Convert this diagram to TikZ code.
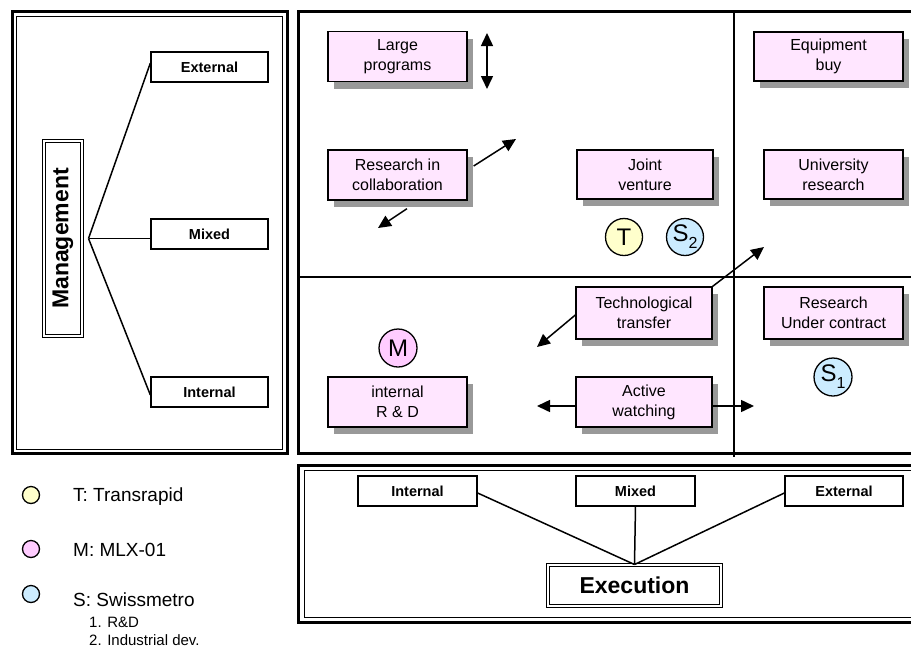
\documentclass[tikz,border=0pt]{standalone}
\usepackage{fontspec}
\setmainfont{Liberation Sans}
\usetikzlibrary{arrows.meta,shadows,calc}
\definecolor{boxpink}{RGB}{255,230,255}
\definecolor{cpink}{RGB}{255,204,255}
\definecolor{cyellow}{RGB}{255,255,204}
\definecolor{cblue}{RGB}{204,236,255}
\definecolor{shadowgray}{RGB}{153,153,153}
\begin{document}
\begin{tikzpicture}[x=1pt,y=-1pt,
  actbox/.style={draw=black,line width=1.3pt,fill=boxpink,minimum width=139pt,minimum height=50pt,inner sep=0pt,align=center,font=\fontsize{16}{20}\selectfont,drop shadow={shadow xshift=6pt,shadow yshift=-7pt,fill=shadowgray,opacity=1}},
  lblbox/.style={draw,line width=1.3pt,fill=white,minimum width=118pt,minimum height=30pt,inner sep=0pt,font=\fontsize{14.5}{16}\selectfont\bfseries},
  dblbox/.style={draw,double,line width=1pt,double distance=2.2pt,inner sep=0pt,font=\fontsize{23}{23}\selectfont\bfseries},
  marker/.style={circle,draw,line width=1.3pt,minimum size=37pt,inner sep=0pt,font=\fontsize{24}{24}\selectfont},
  legdot/.style={circle,draw,line width=1.3pt,minimum size=17pt,inner sep=0pt},
  legtxt/.style={anchor=west,inner sep=0pt,font=\fontsize{19}{22}\selectfont},
  legsub/.style={anchor=west,inner sep=0pt,font=\fontsize{15}{18}\selectfont},
  arr/.style={line width=1.5pt,-{Triangle[length=13pt,width=12pt]}},
  link/.style={line width=1.5pt},
]
\clip (0,0) rectangle (911,649);
\fill[white] (0,0) rectangle (911,649);

% ---------- panels ----------
\draw[line width=3pt] (12.5,11.5) rectangle (287.5,453.5);
\draw[line width=1pt] (16.5,16.5) rectangle (282,449.5);
\draw[line width=3pt] (298.5,11.5) rectangle (930,453);
\draw[line width=1.5pt] (298.5,277) -- (930,277);
\draw[line width=1.5pt] (734,11.5) -- (734,457);
\draw[line width=3pt] (298.5,465.5) rectangle (930,622);
\draw[line width=1pt] (304,470.5) rectangle (930,617);

% ---------- management ----------
\node[dblbox,minimum width=195pt,minimum height=38pt,rotate=90] (mgmt) at (63,238.5) {Management};
\node[lblbox,minimum width=117pt] (lext) at (209.5,67) {External};
\node[lblbox,minimum width=117pt] (lmix) at (209.5,234) {Mixed};
\node[lblbox,minimum width=117pt] (lint) at (209.5,392) {Internal};
\coordinate (apex) at ($(mgmt.south)+(6,0)$);
\draw[link] (apex) -- ($(lext.west)+(0,-4)$);
\draw[link] (apex) -- (apex -| lmix.west);
\draw[link] (apex) -- ($(lint.west)+(0,3)$);

% ---------- activity boxes ----------
\node[actbox] (lp) at (397.5,56.5) {Large\\programs};
\node[actbox] (rc) at (397.5,175) {Research in\\collaboration};
\node[actbox,minimum width=136pt,minimum height=49pt] (jv) at (645,174.5) {Joint\\venture};
\node[actbox,minimum width=149pt,minimum height=49pt] (eq) at (828.5,56.5) {Equipment\\buy};
\node[actbox,minimum height=49pt] (ur) at (833.5,174.5) {University\\research};
\node[actbox,minimum width=136pt,minimum height=52pt] (tt) at (644,313) {Technological\\transfer};
\node[actbox,minimum height=52pt] (ruc) at (833.5,313) {Research\\Under contract};
\node[actbox,minimum width=136pt] (aw) at (644,402) {Active\\watching};
\node[actbox] (ird) at (397.5,402) {internal\\R \& D};

% ---------- markers ----------
\node[marker,fill=cyellow] (mT) at (624,237) {T};
\node[marker,fill=cblue] (mS2) at (685,237) {S\raisebox{-7pt}{\fontsize{16}{16}\selectfont 2}};
\node[marker,fill=cpink,minimum size=38pt] (mM) at (398,348) {M};
\node[marker,fill=cblue,minimum size=38pt] (mS1) at (833,377) {S\raisebox{-7pt}{\fontsize{16}{16}\selectfont 1}};

% ---------- arrows ----------
\coordinate (lpA) at (487,33);
\coordinate (lpB) at (487,89);
\draw[line width=1.5pt,{Triangle[length=13pt,width=12pt]}-{Triangle[length=13pt,width=12pt]}] (lpA) -- (lpB);
\coordinate (rcNE) at (516,139);
\coordinate (rcSW) at (378,228);
\draw[arr] ($(rc.east)+(6,-9)$) -- (rcNE);
\draw[arr] ($(rc.south)+(9.5,8)$) -- (rcSW);
\coordinate (ttNE) at (764,247);
\coordinate (ttSW) at (537,347);
\draw[arr] (tt.north east) -- (ttNE);
\draw[arr] ($(tt.west)+(0,2)$) -- (ttSW);
\coordinate (awL) at (537,406);
\coordinate (awR) at (754,406);
\draw[arr] ($(aw.west)+(0,4)$) -- (awL);
\draw[arr] ($(aw.east)+(0,4)$) -- (awR);

% ---------- execution ----------
\node[lblbox,minimum width=119pt] (bint) at (417.5,491) {Internal};
\node[lblbox,minimum width=119pt] (bmix) at (635.5,491) {Mixed};
\node[lblbox,minimum width=118pt] (bext) at (844,491) {External};
\node[dblbox,minimum width=173pt,minimum height=41pt,fill=white] (exe) at (634.5,585.5) {Execution};
\draw[link] ($(bint.east)+(0,2)$) -- (exe.north);
\draw[link] (bmix.south) -- (exe.north);
\draw[link] ($(bext.west)+(0,2)$) -- (exe.north);

% ---------- legend ----------
\node[legdot,fill=cyellow] (dT) at (31,495) {};
\node[legdot,fill=cpink] (dM) at (31,549) {};
\node[legdot,fill=cblue] (dS) at (31,594) {};
\node[legtxt] (tT) at (73,497) {T: Transrapid};
\node[legtxt] (tM) at (73,550) {M: MLX-01};
\node[legtxt] (tS) at (73,600) {S: Swissmetro};
\node[legsub] (tS1) at (89,622) {1. R\&D};
\node[legsub] (tS2) at (89,640) {2. Industrial dev.};
\end{tikzpicture}
\end{document}
